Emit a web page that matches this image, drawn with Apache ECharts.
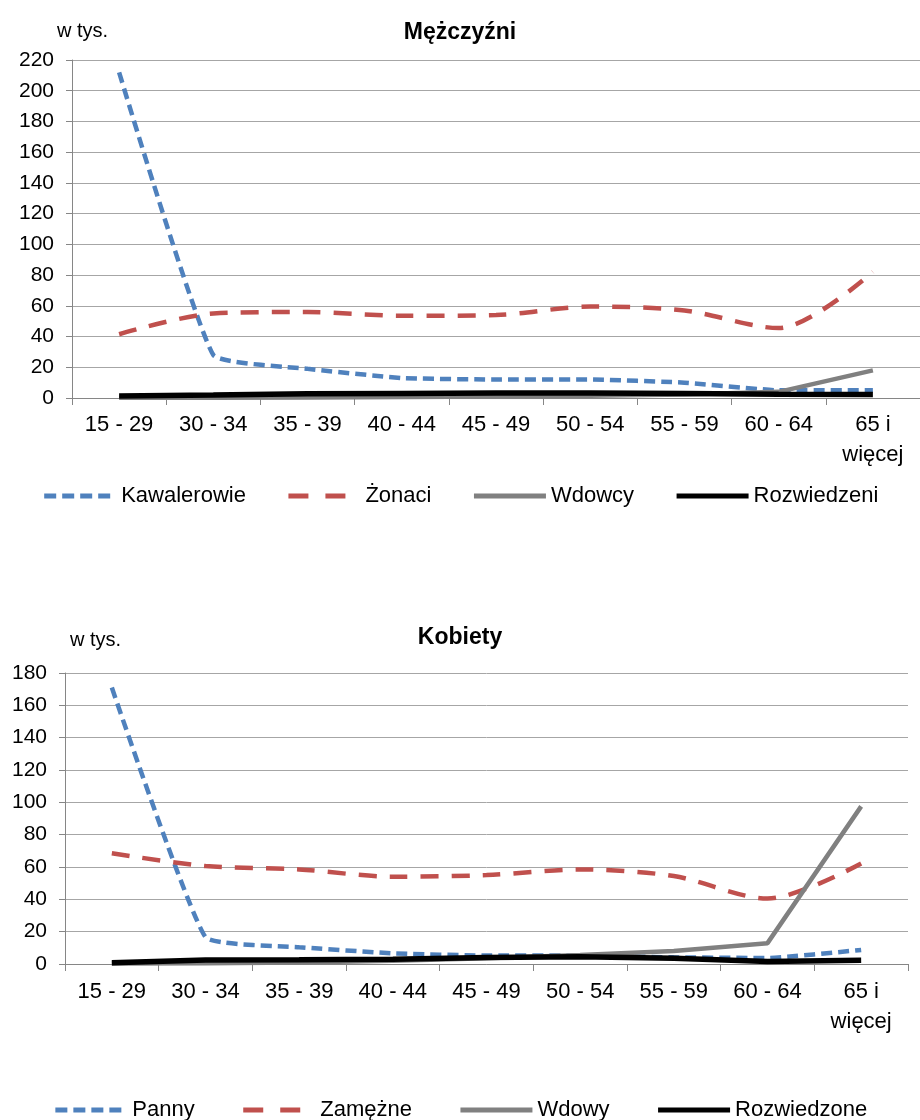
<!DOCTYPE html>
<html><head><meta charset="utf-8">
<script src="https://cdn.jsdelivr.net/npm/echarts@6/dist/echarts.min.js"></script>
<style>html,body{margin:0;padding:0;background:#fff}#c{width:920px;height:1120px}</style>
</head><body><div id="c"></div><script>
const categories = ['15 - 29','30 - 34','35 - 39','40 - 44','45 - 49','50 - 54','55 - 59','60 - 64','65 i\nwięcej'];
const kawalerowie = [212,28,19,13,12,12,10,5,5];
const zonaci = [41.5,55,56,53.5,54,59.5,57,45.5,82];
const wdowcy = [0.1,0.2,0.4,0.7,1,1.5,2.3,4,18];
const rozwiedzeni = [1.3,2,2.8,3,3.2,3.2,3,2.5,2.3];
const panny = [171,16.6,10.4,6.6,5.2,5.2,4.1,3.7,8.7];
const zamezne = [68.5,60.6,58.5,54,55,58.5,54.4,40.5,62.2];
const wdowy = [0.3,0.5,1,2,3.5,5.5,8,12.9,97.5];
const rozwiedzone = [0.8,2.5,2.7,3,4,4.5,3.5,1.5,2.3];
const namesTop = ['Kawalerowie','Żonaci','Wdowcy','Rozwiedzeni'];
const namesBottom = ['Panny','Zamężne','Wdowy','Rozwiedzone'];

const FONT = 'Liberation Sans, Arial, sans-serif';
const BLUE = '#4F81BD', RED = '#C0504D', GREY = '#808080', BLACK = '#000000';
const styles = [
  {color: BLUE, width: 4.5, type: [11, 6], smooth: 0.12},
  {color: RED, width: 4.5, type: [18, 13], smooth: 0.3},
  {color: GREY, width: 4.5, type: 'solid', smooth: false},
  {color: BLACK, width: 5.5, type: 'solid', smooth: false}
];
const legendDash = [[12, 6], [20, 17], 'solid', 'solid'];
function mk(name, data, i, idx) {
  const s = styles[i];
  return {
    name, type: 'line', data, xAxisIndex: idx, yAxisIndex: idx,
    symbol: 'none', showSymbol: false, smooth: s.smooth,
    lineStyle: {color: s.color, width: s.width, type: s.type, cap: 'butt'},
    itemStyle: {color: s.color}, z: 2 + i
  };
}
function xAx(idx, margin) {
  return {
    type: 'category', gridIndex: idx, data: categories, boundaryGap: true,
    axisLine: {lineStyle: {color: '#868686', width: 1}},
    axisTick: {show: true, length: 7, lineStyle: {color: '#868686'}},
    axisLabel: {fontFamily: FONT, fontSize: 22, color: '#000', margin, lineHeight: 30, interval: 0}
  };
}
function yAx(idx, max) {
  return {
    type: 'value', gridIndex: idx, min: 0, max, interval: 20,
    axisLine: {show: true, lineStyle: {color: '#868686', width: 1}},
    axisTick: {show: true, length: 6, lineStyle: {color: '#868686'}},
    splitLine: {lineStyle: {color: '#A6A6A6', width: 1}},
    axisLabel: {fontFamily: FONT, fontSize: 21, color: '#000', margin: 18}
  };
}
function legendData(names) {
  return names.map((n, i) => ({name: n, lineStyle: {type: legendDash[i], width: 5}}));
}
const legendText = {fontFamily: FONT, fontSize: 22, color: '#000'};
const legendBase = {itemWidth: 72, itemHeight: 12, textStyle: legendText,
  itemStyle: {opacity: 0}, lineStyle: {width: 5}};
const chart = echarts.init(document.getElementById('c'));
chart.setOption({
  animation: false,
  backgroundColor: '#fff',
  title: [
    {text: 'Mężczyźni', left: 'center', top: 16, textStyle: {fontFamily: FONT, fontSize: 23, fontWeight: 'bold', color: '#000'}},
    {text: 'w tys.', left: 52, top: 16, textStyle: {fontFamily: FONT, fontSize: 20, fontWeight: 'normal', color: '#000'}},
    {text: 'Kobiety', left: 'center', top: 621, textStyle: {fontFamily: FONT, fontSize: 23, fontWeight: 'bold', color: '#000'}},
    {text: 'w tys.', left: 65, top: 625, textStyle: {fontFamily: FONT, fontSize: 20, fontWeight: 'normal', color: '#000'}}
  ],
  legend: [
    Object.assign({data: legendData(namesTop), top: 480, left: 'center', itemGap: 40}, legendBase),
    Object.assign({data: legendData(namesBottom), top: 1094, left: 'center', itemGap: 46}, legendBase)
  ],
  grid: [
    {left: 72, top: 60, width: 856, height: 338, containLabel: false},
    {left: 65, top: 673, width: 843, height: 291, containLabel: false}
  ],
  xAxis: [xAx(0, 12), xAx(1, 13)],
  yAxis: [yAx(0, 220), yAx(1, 180)],
  series: [
    mk(namesTop[0], kawalerowie, 0, 0),
    mk(namesTop[1], zonaci, 1, 0),
    mk(namesTop[2], wdowcy, 2, 0),
    mk(namesTop[3], rozwiedzeni, 3, 0),
    mk(namesBottom[0], panny, 0, 1),
    mk(namesBottom[1], zamezne, 1, 1),
    mk(namesBottom[2], wdowy, 2, 1),
    mk(namesBottom[3], rozwiedzone, 3, 1)
  ]
});
</script></body></html>
